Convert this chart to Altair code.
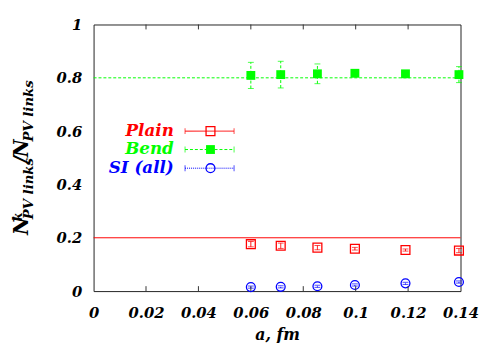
import altair as alt
import pandas as pd

# ---- data ----
A_VALUES = [0.060, 0.0714, 0.0854, 0.0997, 0.119, 0.1394]
BEND = [0.809, 0.812, 0.815, 0.817, 0.815, 0.812]
BEND_ERR = [0.049, 0.050, 0.037, 0.005, 0.004, 0.030]
PLAIN = [0.176, 0.170, 0.163, 0.159, 0.154, 0.152]
PLAIN_ERR = [0.010, 0.010, 0.008, 0.005, 0.004, 0.008]
SI = [0.015, 0.016, 0.018, 0.023, 0.029, 0.034]
SI_ERR = [0.004, 0.004, 0.004, 0.004, 0.004, 0.004]

REF_PLAIN = [0.2]
REF_BEND = [0.8]

X_TICKS = [0, 0.02, 0.04, 0.06, 0.08, 0.1, 0.12, 0.14]
Y_TICKS = [0, 0.2, 0.4, 0.6, 0.8, 1]

LEG_LABELS = ["Plain", "Bend", "SI (all)"]
LEG_Y = [0.600, 0.531, 0.461]
LEG_TEXT_X = 0.0306
LEG_LINE_X = [0.0349, 0.0536]
LEG_MARK_X = 0.0446

RED, GREEN, BLUE = "#ff0000", "#00ff00", "#0000ff"
FONT = "DejaVu Serif"
W, H = 373, 271

xs = alt.Scale(domain=[0, 0.14], nice=False, zero=False)
ys = alt.Scale(domain=[0, 1], nice=False)


def series_df(vals, errs):
    return pd.DataFrame({
        "a": A_VALUES,
        "v": vals,
        "lo": [v - e for v, e in zip(vals, errs)],
        "hi": [v + e for v, e in zip(vals, errs)],
    })


X = alt.X("a:Q", scale=xs, axis=alt.Axis(values=X_TICKS, format="~g", title="a, fm",
                                         labelOverlap=False, labelFlush=False))
Y = alt.Y("v:Q", scale=ys, axis=alt.Axis(values=Y_TICKS, format="~g", title=None,
                                         labelOverlap=False, labelFlush=False))


def series_layers(df, color, dash, shape, filled):
    base = alt.Chart(df)
    bar = base.mark_rule(color=color, strokeWidth=1, strokeDash=dash).encode(
        x=alt.X("a:Q", scale=xs), y=alt.Y("lo:Q", scale=ys), y2="hi:Q")
    cap_lo = base.mark_tick(color=color, orient="horizontal", size=6, thickness=1).encode(
        x=alt.X("a:Q", scale=xs), y=alt.Y("lo:Q", scale=ys))
    cap_hi = base.mark_tick(color=color, orient="horizontal", size=6, thickness=1).encode(
        x=alt.X("a:Q", scale=xs), y=alt.Y("hi:Q", scale=ys))
    pts = base.mark_point(shape=shape, filled=filled, size=81, color=color,
                          strokeWidth=1.3, opacity=1).encode(x=X, y=Y)
    return [bar, cap_lo, cap_hi, pts]


df_plain = series_df(PLAIN, PLAIN_ERR)
df_bend = series_df(BEND, BEND_ERR)
df_si = series_df(SI, SI_ERR)

ref_plain = alt.Chart(pd.DataFrame({"v": REF_PLAIN})).mark_rule(color=RED, strokeWidth=1).encode(
    y=alt.Y("v:Q", scale=ys))
ref_bend = alt.Chart(pd.DataFrame({"v": REF_BEND})).mark_rule(
    color=GREEN, strokeWidth=1, strokeDash=[3, 2]).encode(y=alt.Y("v:Q", scale=ys))

# axis ticks (inward, top and bottom)
tick_df = pd.DataFrame({"a": X_TICKS[1:-1]})
ticks_bottom = alt.Chart(tick_df).mark_rule(color="#333", strokeWidth=1).encode(
    x=alt.X("a:Q", scale=xs), y=alt.value(H), y2=alt.value(H - 5))
ticks_top = alt.Chart(tick_df).mark_rule(color="#333", strokeWidth=1).encode(
    x=alt.X("a:Q", scale=xs), y=alt.value(0), y2=alt.value(5))

# legend
leg_df = pd.DataFrame({
    "lab": LEG_LABELS, "v": LEG_Y,
    "tx": [LEG_TEXT_X] * 3, "x0": [LEG_LINE_X[0]] * 3, "x1": [LEG_LINE_X[1]] * 3,
    "mx": [LEG_MARK_X] * 3,
})
leg_colors = [RED, GREEN, BLUE]
leg_dash = [[1, 0], [3, 2], [1, 1]]
leg_shape = ["square", "square", "circle"]
leg_fill = [False, True, False]
leg_layers = []
for i in range(3):
    d = alt.Chart(leg_df.iloc[[i]])
    leg_layers.append(d.mark_text(align="right", baseline="middle", font=FONT, fontSize=17,
                                  fontStyle="italic", fontWeight="bold", color=leg_colors[i]).encode(
        x=alt.X("tx:Q", scale=xs), y=alt.Y("v:Q", scale=ys), text="lab:N"))
    leg_layers.append(d.mark_rule(color=leg_colors[i], strokeWidth=1, strokeDash=leg_dash[i]).encode(
        x=alt.X("x0:Q", scale=xs), x2="x1:Q", y=alt.Y("v:Q", scale=ys)))
    for col in ["x0", "x1"]:
        leg_layers.append(d.mark_tick(color=leg_colors[i], orient="vertical", size=6, thickness=1).encode(
            x=alt.X(f"{col}:Q", scale=xs), y=alt.Y("v:Q", scale=ys)))
    leg_layers.append(d.mark_point(shape=leg_shape[i], filled=leg_fill[i], size=81, color=leg_colors[i],
                                   strokeWidth=1.3, opacity=1).encode(
        x=alt.X("mx:Q", scale=xs), y=alt.Y("v:Q", scale=ys)))

# y-axis title built from pieces (sub/superscripts)
title_parts = [
    ("N", 20, -67, 214),
    ("k", 13, -73, 200),
    ("PV links", 13.5, -62, 198),
    ("/", 20, -67, 141),
    ("N", 20, -67, 135),
    ("PV links", 13.5, -62, 119),
]
title_layers = []
for txt, fs, px, py in title_parts:
    title_layers.append(
        alt.Chart(pd.DataFrame({"t": [txt]})).mark_text(
            angle=270, align="left", baseline="alphabetic", font=FONT, fontSize=fs,
            fontStyle="italic", fontWeight="bold", color="black").encode(
            text="t:N", x=alt.value(px), y=alt.value(py)))

layers = [ref_plain, ref_bend]
layers += series_layers(df_bend, GREEN, [3, 2], "square", True)
layers += series_layers(df_plain, RED, [1, 0], "square", False)
layers += series_layers(df_si, BLUE, [1, 1], "circle", False)
layers += [ticks_bottom, ticks_top] + leg_layers + title_layers

# base layer carrying the axes
axes = alt.Chart(df_plain).mark_point(opacity=0).encode(x=X, y=Y)

chart = alt.layer(axes, *layers).properties(
    width=W, height=H,
    autosize=alt.AutoSizeParams(type="none"),
    padding={"left": 87, "top": 14, "right": 32, "bottom": 50},
).configure_view(stroke="#222", strokeWidth=1).configure_axis(
    grid=False, domain=False, ticks=False, tickSize=0,
    labelFont=FONT, labelFontSize=15, labelFontStyle="italic", labelFontWeight="bold",
    labelColor="black",
    titleFont=FONT, titleFontSize=16, titleFontStyle="italic", titleFontWeight="bold",
    titleColor="black",
).configure_axisX(labelPadding=15, titlePadding=6).configure_axisY(labelPadding=12)

chart.save("out.html", embed_options={"renderer": "svg", "actions": False})
